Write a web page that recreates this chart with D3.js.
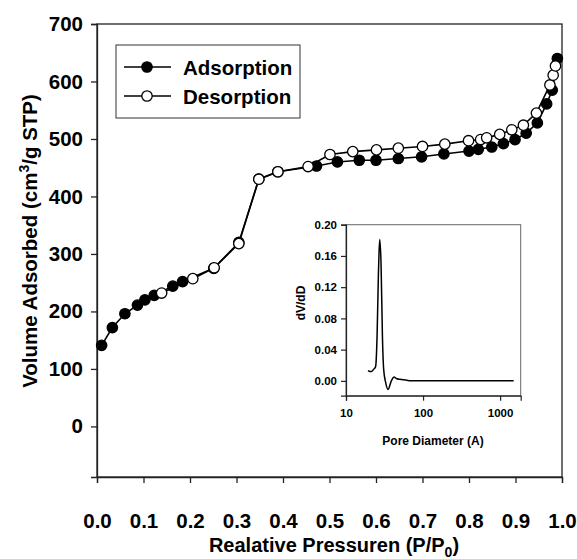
<!DOCTYPE html>
<html>
<head>
<meta charset="utf-8">
<script src="https://cdn.jsdelivr.net/npm/d3@7"></script>
<style>
  html, body { margin: 0; padding: 0; background: #fff; }
  svg { display: block; font-family: "Liberation Sans", Arial, sans-serif; font-weight: bold; }
</style>
</head>
<body>
<svg id="chart" width="577" height="559"></svg>
<script>
// N2 sorption isotherm: relative pressure vs. volume adsorbed
const adsP = [0.010, 0.033, 0.060, 0.087, 0.103, 0.123, 0.163, 0.184, 0.251, 0.305, 0.348, 0.389,
              0.472, 0.517, 0.564, 0.600, 0.648, 0.698, 0.746, 0.800, 0.820, 0.849, 0.874, 0.899,
              0.923, 0.947, 0.967, 0.979, 0.990];
const adsV = [141, 172, 196, 211, 220, 228, 244, 252, 275, 320, 430, 443,
              453, 460, 463, 463, 466, 469, 474, 479, 482, 486, 492, 499,
              510, 528, 561, 585, 640];
const desP = [0.139, 0.206, 0.252, 0.305, 0.348, 0.389, 0.454, 0.501, 0.550, 0.601, 0.648, 0.700,
              0.748, 0.799, 0.825, 0.838, 0.866, 0.892, 0.917, 0.945, 0.974, 0.981, 0.986];
const desV = [232, 257, 276, 318, 430, 443, 452, 473, 478, 481, 484, 487,
              491, 497, 499, 502, 508, 516, 524, 545, 594, 611, 627];

// Pore size distribution (inset)
const poreD = [19.3, 20.5, 21.4, 22.9, 23.9, 24.3, 25.3, 26.3, 26.8, 27.4, 28.5, 29.7, 30.8,
               32.7, 35.1, 38.8, 42, 45, 50, 60, 70, 1500];
const poreDV = [0.013, 0.012, 0.012, 0.015, 0.017, 0.019, 0.057, 0.134, 0.163, 0.181, 0.150, 0.057, 0.015,
                -0.002, -0.011, 0.000, 0.005, 0.003, 0.002, 0.001, 0.000, 0.000];

const xTicks = d3.range(0, 1.0001, 0.1);
const yTicks = d3.range(0, 701, 100);
const insetYTicks = [0, 0.04, 0.08, 0.12, 0.16, 0.20];
const insetXTicks = [10, 100, 1000];

const svg = d3.select("#chart");
const ink = "#000";
const FONT = "'Liberation Sans', Arial, sans-serif";

// ---- main plot ----
const x = d3.scaleLinear().domain([0, 1]).range([97, 562]);
const y = d3.scaleLinear().domain([-88, 700]).range([477, 24]);

// frame
svg.append("rect")
  .attr("x", x(0)).attr("y", y(700))
  .attr("width", x(1) - x(0)).attr("height", y(-88) - y(700))
  .attr("fill", "none").attr("stroke", "#222").attr("stroke-width", 1.3);

const xAxis = svg.append("g")
  .attr("transform", `translate(0,${y(-88)})`)
  .call(d3.axisBottom(x).tickValues(xTicks).tickFormat(d3.format(".1f")).tickSize(6).tickPadding(30));
const yAxis = svg.append("g")
  .attr("transform", `translate(${x(0)},0)`)
  .call(d3.axisLeft(y).tickValues(yTicks).tickFormat(d3.format("d")).tickSize(6).tickPadding(8));

[xAxis, yAxis].forEach(g => {
  g.select(".domain").attr("stroke", "#222").attr("stroke-width", 1.3);
  g.selectAll(".tick line").attr("stroke", "#222").attr("stroke-width", 1.3);
  g.selectAll(".tick text").attr("fill", ink)
    .style("font-size", "20.5px").style("font-weight", "bold").style("font-family", FONT);
});

// axis titles
const xt = svg.append("text")
  .attr("x", 334).attr("y", 552).attr("text-anchor", "middle")
  .style("font-size", "20px").attr("fill", ink);
xt.append("tspan").text("Realative Pressuren (P/P");
xt.append("tspan").attr("dy", 5).style("font-size", "14px").text("0");
xt.append("tspan").attr("dy", -5).text(")");

const yt = svg.append("text")
  .attr("transform", "translate(37,241) rotate(-90)")
  .attr("text-anchor", "middle")
  .style("font-size", "20.5px").attr("fill", ink);
yt.append("tspan").text("Volume Adsorbed (cm");
yt.append("tspan").attr("dy", -8).style("font-size", "14px").text("3");
yt.append("tspan").attr("dy", 8).text("/g STP)");

// series
const line = d3.line().x(d => x(d[0])).y(d => y(d[1]));
const ads = adsP.map((p, i) => [p, adsV[i]]);
const des = desP.map((p, i) => [p, desV[i]]);

function drawSeries(data, fill) {
  svg.append("path").datum(data)
    .attr("d", line).attr("fill", "none").attr("stroke", ink).attr("stroke-width", 1.6);
  svg.append("g").selectAll("circle").data(data).join("circle")
    .attr("cx", d => x(d[0])).attr("cy", d => y(d[1])).attr("r", 5.2)
    .attr("fill", fill).attr("stroke", ink).attr("stroke-width", 1.3);
}
drawSeries(ads, ink);
drawSeries(des, "#fff");

// legend
const lg = svg.append("g");
lg.append("rect").attr("x", 116).attr("y", 45).attr("width", 184).attr("height", 73)
  .attr("fill", "#fff").attr("stroke", "#333").attr("stroke-width", 1);
[["Adsorption", ink, 67], ["Desorption", "#fff", 96]].forEach(([label, fill, cy]) => {
  lg.append("line").attr("x1", 124).attr("x2", 171).attr("y1", cy).attr("y2", cy)
    .attr("stroke", ink).attr("stroke-width", 1.6);
  lg.append("circle").attr("cx", 147).attr("cy", cy).attr("r", 5.2)
    .attr("fill", fill).attr("stroke", ink).attr("stroke-width", 1.3);
  lg.append("text").attr("x", 183).attr("y", cy + 7.5)
    .style("font-size", "20.5px").attr("fill", ink).text(label);
});

// ---- inset: pore size distribution ----
const ix = d3.scaleLog().domain([10, 1850]).range([346, 520.7]);
const iy = d3.scaleLinear().domain([-0.019, 0.2]).range([395.7, 224.7]);

svg.append("rect")
  .attr("x", ix(10)).attr("y", iy(0.2))
  .attr("width", ix(1850) - ix(10)).attr("height", iy(-0.019) - iy(0.2))
  .attr("fill", "none").attr("stroke", "#666").attr("stroke-width", 1);

const ixAxis = svg.append("g")
  .attr("transform", `translate(0,${iy(-0.019)})`)
  .call(d3.axisBottom(ix).tickValues(insetXTicks).tickFormat(d3.format("d")).tickSize(5).tickPadding(8));
const iyAxis = svg.append("g")
  .attr("transform", `translate(${ix(10)},0)`)
  .call(d3.axisLeft(iy).tickValues(insetYTicks).tickFormat(d3.format(".2f")).tickSize(5).tickPadding(4));

[ixAxis, iyAxis].forEach(g => {
  g.select(".domain").attr("stroke", "#222").attr("stroke-width", 1.2);
  g.selectAll(".tick line").attr("stroke", "#222").attr("stroke-width", 1.2);
  g.selectAll(".tick text").attr("fill", ink)
    .style("font-size", "11.5px").style("font-weight", "bold").style("font-family", FONT);
});

svg.append("text").attr("x", 433).attr("y", 445).attr("text-anchor", "middle")
  .style("font-size", "12px").attr("fill", ink).text("Pore Diameter (A)");
svg.append("text").attr("transform", "translate(305,303) rotate(-90)").attr("text-anchor", "middle")
  .style("font-size", "12px").attr("fill", ink).text("dV/dD");

const iline = d3.line().x(d => ix(d[0])).y(d => iy(d[1])).curve(d3.curveMonotoneX);
svg.append("path").datum(poreD.map((d, i) => [d, poreDV[i]]))
  .attr("d", iline).attr("fill", "none").attr("stroke", ink).attr("stroke-width", 1.5);
</script>
</body>
</html>
